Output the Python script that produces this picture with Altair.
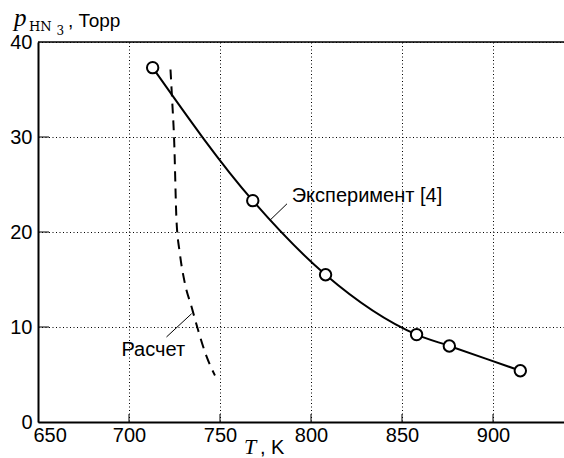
import altair as alt
import pandas as pd

# Experimental points (Эксперимент [4])
exp_T = [713, 768, 808, 858, 876, 915]
exp_p = [37.3, 23.3, 15.5, 9.2, 8.0, 5.4]

# Calculated curve (Расчет)
calc_T = [722.8, 723.7, 724.8, 726.1, 727.9, 730.7, 734.4, 738.0, 742.6, 747.2]
calc_p = [37.1, 33.9, 29.7, 21.2, 17.8, 14.6, 12.1, 9.65, 6.9, 4.9]

x_ticks = [650, 700, 750, 800, 850, 900]
y_ticks = [0, 10, 20, 30, 40]
x_inner_ticks = [700, 750, 800, 850, 900]
y_inner_ticks = [10, 20, 30]

# annotation labels and leader lines (data coordinates)
ann_text = ["Эксперимент [4]", "Расчет"]
ann_T = [789.4, 730.8]
ann_p = [23.16, 7.0]
lead_T1 = [786.8, 720.6]
lead_p1 = [22.97, 8.95]
lead_T2 = [777.4, 734.4]
lead_p2 = [21.23, 11.4]

W, H = 526, 380
XDOM = [650, 939]
YDOM = [0, 40]

exp_df = pd.DataFrame({"T": exp_T, "p": exp_p})
calc_df = pd.DataFrame({"T": calc_T, "p": calc_p})

xs = alt.Scale(domain=XDOM, nice=False, zero=False)
ys = alt.Scale(domain=YDOM, nice=False, zero=False)

SANS = "Liberation Sans"
SERIF = "Liberation Serif"

x_axis = alt.Axis(values=x_ticks, title=None, grid=True, gridDash=[1, 2.5],
                  gridColor="black", gridWidth=1, ticks=False, tickSize=0,
                  domain=True, domainColor="black", domainWidth=2,
                  labelFont=SANS, labelFontSize=20, labelColor="black",
                  labelPadding=3, labelFlush=True, labelFlushOffset=5,
                  labelOverlap=False)
y_axis = alt.Axis(values=y_ticks, title=None, grid=True, gridDash=[1, 2.5],
                  gridColor="black", gridWidth=1, ticks=False, tickSize=0,
                  domain=True, domainColor="black", domainWidth=2,
                  labelFont=SANS, labelFontSize=20, labelColor="black",
                  labelPadding=6, labelFlush=False, labelOverlap=False)

base_exp = alt.Chart(exp_df)

grid_layer = alt.Chart(exp_df).mark_point(opacity=0).encode(
    x=alt.X("T:Q", scale=xs, axis=x_axis),
    y=alt.Y("p:Q", scale=ys, axis=y_axis),
)

exp_line = base_exp.mark_line(color="black", strokeWidth=2, interpolate="monotone").encode(
    x=alt.X("T:Q", scale=xs), y=alt.Y("p:Q", scale=ys))

exp_pts = base_exp.mark_point(shape="circle", size=130, filled=True, fill="white",
                              stroke="black", strokeWidth=2, opacity=1).encode(
    x=alt.X("T:Q", scale=xs), y=alt.Y("p:Q", scale=ys))

calc_line = alt.Chart(calc_df).mark_line(color="black", strokeWidth=2,
                                         strokeDash=[10, 7], interpolate="monotone").encode(
    x=alt.X("T:Q", scale=xs), y=alt.Y("p:Q", scale=ys))

xt = alt.Chart(pd.DataFrame({"T": x_inner_ticks})).mark_rule(color="black", strokeWidth=1).encode(
    x=alt.X("T:Q", scale=xs), y=alt.value(H), y2=alt.value(H - 8))
yt = alt.Chart(pd.DataFrame({"p": y_inner_ticks})).mark_rule(color="black", strokeWidth=1).encode(
    y=alt.Y("p:Q", scale=ys), x=alt.value(0), x2=alt.value(11))

top_border = alt.Chart(pd.DataFrame({"a": [0]})).mark_rule(color="black", strokeWidth=1.5).encode(
    x=alt.value(0), x2=alt.value(W), y=alt.value(0))

ann_df = pd.DataFrame({"text": ann_text, "T": ann_T, "p": ann_p})
ann1 = alt.Chart(ann_df.iloc[[0]]).mark_text(font=SANS, fontSize=20, color="black",
                                             align="left", baseline="alphabetic").encode(
    x=alt.X("T:Q", scale=xs), y=alt.Y("p:Q", scale=ys), text="text:N")
ann2 = alt.Chart(ann_df.iloc[[1]]).mark_text(font=SANS, fontSize=20, color="black",
                                             align="right", baseline="alphabetic").encode(
    x=alt.X("T:Q", scale=xs), y=alt.Y("p:Q", scale=ys), text="text:N")

lead_df = pd.DataFrame({"T1": lead_T1, "p1": lead_p1, "T2": lead_T2, "p2": lead_p2})
leaders = alt.Chart(lead_df).mark_rule(color="black", strokeWidth=1).encode(
    x=alt.X("T1:Q", scale=xs), y=alt.Y("p1:Q", scale=ys),
    x2="T2:Q", y2="p2:Q")

one = pd.DataFrame({"a": [0]})
# y-axis title pieces: p_{HN3}, Торр
yt_p = alt.Chart(one).mark_text(text="p", font=SERIF, fontStyle="italic", fontSize=25,
                                align="left", baseline="alphabetic", color="black").encode(
    x=alt.value(-24), y=alt.value(-16))
yt_hn = alt.Chart(one).mark_text(text="HN", font="DejaVu Serif", fontSize=13,
                                 align="left", baseline="alphabetic", color="black").encode(
    x=alt.value(-9), y=alt.value(-11.5))
yt_3 = alt.Chart(one).mark_text(text="3", font="DejaVu Serif", fontSize=12,
                                align="left", baseline="alphabetic", color="black").encode(
    x=alt.value(18.5), y=alt.value(-7.5))
yt_u = alt.Chart(one).mark_text(text=", Торр", font=SANS, fontSize=19,
                                align="left", baseline="alphabetic", color="black").encode(
    x=alt.value(30), y=alt.value(-15))
# x-axis title: T, K
xt_T = alt.Chart(one).mark_text(text="T", font=SERIF, fontStyle="italic", fontSize=22,
                                align="left", baseline="alphabetic", color="black").encode(
    x=alt.value(206), y=alt.value(H + 31.5))
xt_K = alt.Chart(one).mark_text(text=", K", font=SANS, fontSize=20,
                                align="left", baseline="alphabetic", color="black").encode(
    x=alt.value(222), y=alt.value(H + 31.5))

chart = alt.layer(
    grid_layer, xt, yt, top_border, calc_line, exp_line, exp_pts, leaders, ann1, ann2,
    yt_p, yt_hn, yt_3, yt_u, xt_T, xt_K
).properties(
    width=W, height=H,
    autosize=alt.AutoSizeParams(type="none"),
    padding={"left": 38, "top": 42, "right": 0, "bottom": 36},
).configure_view(stroke=None).configure(background="white")

chart.save("out.html", embed_options={"renderer": "svg", "actions": False})
